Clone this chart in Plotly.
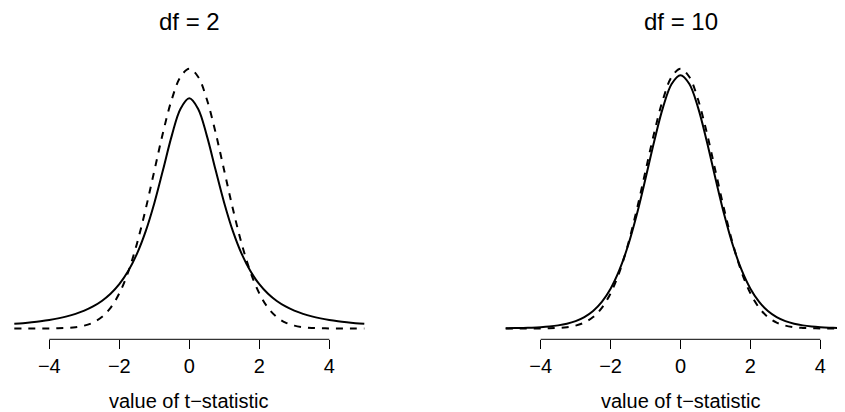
import plotly.graph_objects as go

# x grid (value of t-statistic)
x_vals = [-5.0, -4.75, -4.5, -4.25, -4.0, -3.75, -3.5, -3.25, -3.0, -2.75, -2.5, -2.25, -2.0,
          -1.75, -1.5, -1.25, -1.0, -0.75, -0.5, -0.25, 0.0, 0.25, 0.5, 0.75, 1.0, 1.25, 1.5,
          1.75, 2.0, 2.25, 2.5, 2.75, 3.0, 3.25, 3.5, 3.75, 4.0, 4.25, 4.5, 4.75, 5.0]

# normal density (dashed)
normal_density = [0.0000015, 0.000005, 0.000016, 0.0000477, 0.000134, 0.000353, 0.000873, 0.00203,
                  0.00443, 0.00909, 0.01753, 0.03174, 0.05399, 0.08628, 0.12952, 0.18265, 0.24197,
                  0.30114, 0.35207, 0.38667, 0.39894, 0.38667, 0.35207, 0.30114, 0.24197, 0.18265,
                  0.12952, 0.08628, 0.05399, 0.03174, 0.01753, 0.00909, 0.00443, 0.00203, 0.000873,
                  0.000353, 0.000134, 0.0000477, 0.000016, 0.000005, 0.0000015]

# t density, df = 2 (solid)
t2_density = [0.00713, 0.00821, 0.00953, 0.01113, 0.01309, 0.01553, 0.01859, 0.02246, 0.02741,
              0.03382, 0.04220, 0.05328, 0.06804, 0.08779, 0.11413, 0.14872, 0.19245, 0.24378,
              0.29630, 0.33761, 0.35355, 0.33761, 0.29630, 0.24378, 0.19245, 0.14872, 0.11413,
              0.08779, 0.06804, 0.05328, 0.04220, 0.03382, 0.02741, 0.02246, 0.01859, 0.01553,
              0.01309, 0.01113, 0.00953, 0.00821, 0.00713]

# t density, df = 10 (solid)
t10_density = [0.00040, 0.00059, 0.00088, 0.00133, 0.00203, 0.00311, 0.00478, 0.00738, 0.01140,
               0.01757, 0.02694, 0.04090, 0.06114, 0.08953, 0.12745, 0.17511, 0.23037, 0.28798,
               0.33970, 0.37600, 0.38911, 0.37600, 0.33970, 0.28798, 0.23037, 0.17511, 0.12745,
               0.08953, 0.06114, 0.04090, 0.02694, 0.01757, 0.01140, 0.00738, 0.00478, 0.00311,
               0.00203, 0.00133, 0.00088, 0.00059, 0.00040]

panel_titles = ["df = 2", "df = 10"]
tick_vals = [-4, -2, 0, 2, 4]
x_title = "value of t\u2212statistic"

# page is 845x412; the html body adds an 8px margin, so the figure itself is smaller
OFF = 8
W, H = 845 - OFF, 412 - OFF
FONT = "Liberation Sans, Arial, Helvetica, sans-serif"


def fx(p):
    """page pixel x -> paper fraction"""
    return (p - OFF) / W


def fy(p):
    """page pixel y -> paper fraction"""
    return (H - (p - OFF)) / H


fig = go.Figure()

panels = [
    dict(t=t2_density, xa="x", ya="y"),
    dict(t=t10_density, xa="x2", ya="y2"),
]
for p in panels:
    fig.add_trace(go.Scatter(x=x_vals, y=normal_density, mode="lines", xaxis=p["xa"], yaxis=p["ya"],
                             line=dict(color="black", width=2, dash="7px,7px", shape="spline"),
                             showlegend=False, hoverinfo="skip"))
    fig.add_trace(go.Scatter(x=x_vals, y=p["t"], mode="lines", xaxis=p["xa"], yaxis=p["ya"],
                             line=dict(color="black", width=2, shape="spline"),
                             showlegend=False, hoverinfo="skip"))

# vertical geometry (page pixels): plot region 58.6 .. 339.3
ydom = [fy(339.3), fy(58.6)]
yrange = [-0.0166, 0.4146]

xcommon = dict(tickmode="array", tickvals=tick_vals, ticks="outside", ticklen=9, tickwidth=1,
               tickcolor="black", showgrid=False, zeroline=False, showline=False,
               tickfont=dict(family=FONT, size=20, color="black"), fixedrange=True)
ycommon = dict(visible=False, showgrid=False, zeroline=False, range=yrange, domain=ydom,
               fixedrange=True)

# left panel: x=0 at page px 189.3, 35 px/unit; region starts at page px 8
l0, l1 = OFF, 378.3
left_dom = [fx(l0), fx(l1)]
left_range = [(l0 - 189.3) / 35.0, (l1 - 189.3) / 35.0]
# right panel: x=0 at page px 680.5, 34.96 px/unit
r0, r1 = 491.5, 845.0
right_dom = [fx(r0), fx(r1)]
right_range = [(r0 - 680.5) / 34.96, (r1 - 680.5) / 34.96]

fig.update_layout(
    width=W, height=H, margin=dict(l=0, r=0, t=0, b=0),
    paper_bgcolor="white", plot_bgcolor="white",
    xaxis=dict(domain=left_dom, range=left_range, anchor="y", **xcommon),
    yaxis=dict(anchor="x", **ycommon),
    xaxis2=dict(domain=right_dom, range=right_range, anchor="y2", **xcommon),
    yaxis2=dict(anchor="x2", **ycommon),
    font=dict(family=FONT, color="black"),
)

for i, (xa, ya) in enumerate([("x", "y"), ("x2", "y2")]):
    # axis line spanning the tick range
    fig.add_shape(type="line", xref=xa, yref=ya + " domain", x0=tick_vals[0], x1=tick_vals[-1],
                  y0=0, y1=0, line=dict(color="black", width=1))
    fig.add_annotation(xref=xa, yref="paper", x=0, y=fy(21.7), text=panel_titles[i],
                       showarrow=False, yanchor="middle", xanchor="center",
                       font=dict(family=FONT, size=24, color="black"))
    fig.add_annotation(xref=xa, yref="paper", x=0, y=fy(401.0), text=x_title,
                       showarrow=False, yanchor="middle", xanchor="center",
                       font=dict(family=FONT, size=20, color="black"))

fig.write_html("out.html")
